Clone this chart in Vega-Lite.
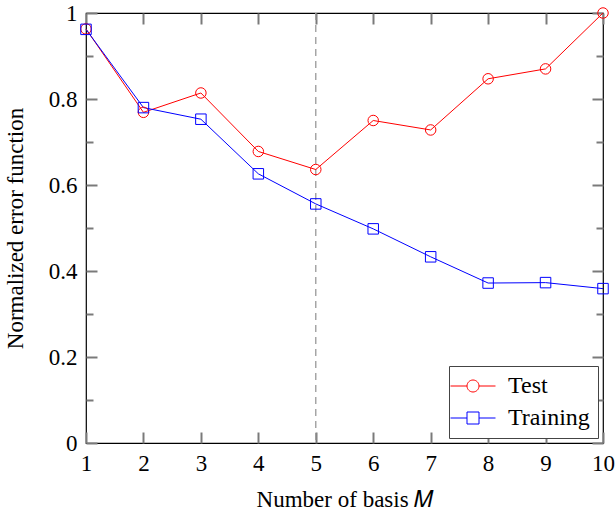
{
  "$schema": "https://vega.github.io/schema/vega-lite/v6.json",
  "width": 517,
  "height": 430,
  "autosize": {"type": "none"},
  "padding": {"left": 86, "top": 13, "right": 13, "bottom": 71},
  "background": "white",
  "config": {
    "view": {"stroke": "#000", "strokeWidth": 1.2},
    "font": "Liberation Serif",
    "axis": {"grid": false, "domain": false, "labelFont": "Liberation Serif", "labelFontSize": 23, "labelColor": "#000", "labelFlush": false, "titleFont": "Liberation Serif", "titleFontSize": 23, "titleFontWeight": "normal", "titleColor": "#000"}
  },
  "datasets": {
    "err": [
      {"M": 1, "series": "Test", "value": 0.963},
      {"M": 2, "series": "Test", "value": 0.769},
      {"M": 3, "series": "Test", "value": 0.814},
      {"M": 4, "series": "Test", "value": 0.678},
      {"M": 5, "series": "Test", "value": 0.636},
      {"M": 6, "series": "Test", "value": 0.750},
      {"M": 7, "series": "Test", "value": 0.728},
      {"M": 8, "series": "Test", "value": 0.847},
      {"M": 9, "series": "Test", "value": 0.870},
      {"M": 10, "series": "Test", "value": 1.0},
      {"M": 1, "series": "Training", "value": 0.962},
      {"M": 2, "series": "Training", "value": 0.780},
      {"M": 3, "series": "Training", "value": 0.753},
      {"M": 4, "series": "Training", "value": 0.626},
      {"M": 5, "series": "Training", "value": 0.556},
      {"M": 6, "series": "Training", "value": 0.498},
      {"M": 7, "series": "Training", "value": 0.433},
      {"M": 8, "series": "Training", "value": 0.372},
      {"M": 9, "series": "Training", "value": 0.373},
      {"M": 10, "series": "Training", "value": 0.359}
    ],
    "marker": [{"M": 5}]
  },
  "layer": [
    {
      "data": {"name": "marker"},
      "mark": {"type": "rule", "color": "#999", "strokeDash": [7, 5], "strokeWidth": 1.3},
      "encoding": {
        "x": {"field": "M", "type": "quantitative", "scale": {"domain": [1, 10], "nice": false, "zero": false}, "axis": null}
      }
    },
    {
      "data": {"name": "err"},
      "mark": {"type": "line", "strokeWidth": 1},
      "encoding": {
        "x": {"field": "M", "type": "quantitative", "scale": {"domain": [1, 10], "nice": false, "zero": false},
          "axis": {"orient": "bottom", "values": [1,2,3,4,5,6,7,8,9,10], "ticks": true, "tickSize": -11, "tickColor": "#7a7a7a", "tickWidth": 2, "labelPadding": 20, "title": "Number of basis 𝑀", "titlePadding": 13}},
        "y": {"field": "value", "type": "quantitative", "scale": {"domain": [0, 1], "nice": false},
          "axis": {"orient": "left", "values": [0,0.1,0.2,0.3,0.4,0.5,0.6,0.7,0.8,0.9,1],
            "ticks": true, "tickSize": -11, "tickColor": "#7a7a7a", "tickWidth": 2,
            "tickDash": {"condition": {"test": "round(datum.value*10) % 2 == 1", "value": [7, 30]}, "value": [30, 0]},
            "labelPadding": 20,
            "labelExpr": "round(datum.value*10) % 2 == 0 ? toString(round(datum.value*10)/10) : ''",
            "title": "Normalized error function", "titlePadding": 21}},
        "color": {"field": "series", "type": "nominal", "scale": {"domain": ["Test", "Training"], "range": ["#ff0000", "#0000ff"]}, "legend": null}
      }
    },
    {
      "data": {"name": "err"},
      "mark": {"type": "point", "filled": false, "size": 110, "strokeWidth": 1, "opacity": 1},
      "encoding": {
        "x": {"field": "M", "type": "quantitative", "scale": {"domain": [1, 10], "nice": false, "zero": false},
          "axis": {"orient": "top", "values": [1,2,3,4,5,6,7,8,9,10], "ticks": true, "tickSize": -11, "tickColor": "#7a7a7a", "tickWidth": 2, "labels": false, "title": null}},
        "y": {"field": "value", "type": "quantitative", "scale": {"domain": [0, 1], "nice": false},
          "axis": {"orient": "right", "values": [0,0.1,0.2,0.3,0.4,0.5,0.6,0.7,0.8,0.9,1],
            "ticks": true, "tickSize": -11, "tickColor": "#7a7a7a", "tickWidth": 2,
            "tickDash": {"condition": {"test": "round(datum.value*10) % 2 == 1", "value": [7, 30]}, "value": [30, 0]},
            "labels": false, "title": null}},
        "color": {"field": "series", "type": "nominal", "scale": {"domain": ["Test", "Training"], "range": ["#ff0000", "#0000ff"]}, "legend": null},
        "shape": {"field": "series", "type": "nominal", "scale": {"domain": ["Test", "Training"], "range": ["circle", "square"]}, "legend": null}
      }
    },
    {
      "data": {"name": "err"},
      "mark": {"type": "point", "filled": false, "size": 110, "opacity": 0},
      "encoding": {
        "x": {"field": "M", "type": "quantitative", "scale": {"domain": [1, 10], "nice": false, "zero": false}, "axis": null},
        "y": {"field": "value", "type": "quantitative", "scale": {"domain": [0, 1], "nice": false}, "axis": null},
        "color": {"field": "series", "type": "nominal", "scale": {"domain": ["Test", "Training"], "range": ["#ff0000", "#0000ff"]},
          "legend": {"title": null, "orient": "bottom-right", "offset": 5, "padding": 8, "strokeColor": "#444", "fillColor": "white", "labelFont": "Liberation Serif", "labelFontSize": 24, "labelColor": "#000", "rowPadding": 8, "symbolSize": 144, "symbolStrokeWidth": 1, "symbolOpacity": 1, "symbolFillColor": "transparent", "symbolOffset": 4, "labelOffset": 23}},
        "shape": {"field": "series", "type": "nominal", "scale": {"domain": ["Test", "Training"], "range": ["M-3.75,0L-1,0M1,0L3.75,0M1,0A1,1,0,1,1,-1,0A1,1,0,1,1,1,0", "M-3.75,0L-1,0M1,0L3.75,0M-1,-1L1,-1L1,1L-1,1Z"]},
          "legend": {"title": null, "orient": "bottom-right", "offset": 5, "padding": 8, "strokeColor": "#444", "fillColor": "white", "labelFont": "Liberation Serif", "labelFontSize": 24, "labelColor": "#000", "rowPadding": 8, "symbolSize": 144, "symbolStrokeWidth": 1, "symbolOpacity": 1, "symbolFillColor": "transparent", "symbolOffset": 4, "labelOffset": 23}}
      }
    }
  ],
  "resolve": {"scale": {"shape": "independent", "color": "independent"}, "axis": {"x": "independent", "y": "independent"}}
}
